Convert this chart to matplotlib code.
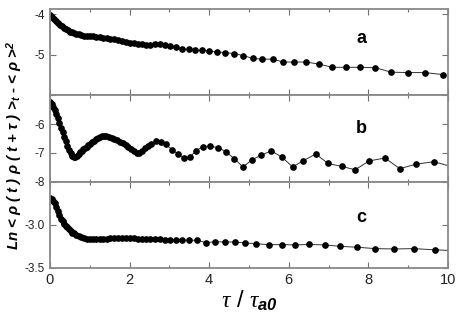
import matplotlib
matplotlib.use("Agg")
import matplotlib.pyplot as plt
from matplotlib.ticker import MultipleLocator

plt.rcParams['font.family'] = ['Liberation Sans', 'DejaVu Sans']
plt.rcParams['mathtext.fontset'] = 'custom'
plt.rcParams['mathtext.it'] = 'Liberation Serif:italic'
plt.rcParams['mathtext.bf'] = 'Liberation Sans:italic:bold'

# panel a
xa = [0.00, 0.05, 0.10, 0.15, 0.20, 0.25, 0.30, 0.35, 0.40, 0.45, 0.50, 0.55,
      0.60, 0.66, 0.72, 0.78, 0.85, 0.92, 1.00, 1.08, 1.16, 1.25, 1.34, 1.43,
      1.52, 1.62, 1.72, 1.82, 1.92, 2.02, 2.12, 2.22, 2.32, 2.42,
      2.51, 2.64, 2.76, 2.89, 3.02, 3.17, 3.33, 3.49, 3.65, 3.83, 4.00, 4.21,
      4.41, 4.62, 4.86, 5.09, 5.34, 5.60, 5.86, 6.14, 6.43, 6.76, 7.09, 7.44,
      7.80, 8.18, 8.57, 8.99, 9.42, 9.88]
ya = [-4.03, -4.07, -4.11, -4.16, -4.21, -4.26, -4.30, -4.34, -4.37, -4.40, -4.43, -4.45,
      -4.47, -4.49, -4.50, -4.52, -4.53, -4.54, -4.55, -4.55, -4.56, -4.57, -4.58, -4.59,
      -4.60, -4.62, -4.64, -4.66, -4.68, -4.70, -4.72, -4.73, -4.74, -4.75,
      -4.76, -4.74, -4.74, -4.76, -4.78, -4.82, -4.85, -4.87, -4.89, -4.89, -4.91, -4.93,
      -4.95, -4.97, -5.02, -5.09, -5.11, -5.11, -5.18, -5.18, -5.18, -5.23, -5.31, -5.31,
      -5.31, -5.32, -5.43, -5.44, -5.44, -5.49]

# panel b
xb = [0.00, 0.04, 0.08, 0.12, 0.16, 0.20, 0.24, 0.28, 0.32, 0.36, 0.40, 0.44,
      0.48, 0.52, 0.56, 0.60, 0.64, 0.68, 0.72, 0.76, 0.80, 0.84, 0.88, 0.92,
      0.96, 1.00, 1.05, 1.10, 1.15, 1.20, 1.25, 1.30, 1.36, 1.42, 1.48, 1.55,
      1.62, 1.69, 1.76, 1.83, 1.90, 1.97, 2.04, 2.11, 2.18, 2.25, 2.32, 2.39, 2.46,
      2.55, 2.66, 2.79, 2.91, 3.07, 3.21, 3.36, 3.51, 3.68, 3.84, 4.03, 4.23,
      4.42, 4.63, 4.85, 5.08, 5.31, 5.56, 5.83, 6.10, 6.37, 6.68, 6.99, 7.33,
      7.67, 8.02, 8.42, 8.79, 9.21, 9.65, 10.10]
yb = [-5.23, -5.30, -5.40, -5.52, -5.65, -5.80, -5.97, -6.12, -6.28, -6.44, -6.60, -6.75,
      -6.90, -7.02, -7.10, -7.15, -7.14, -7.10, -7.04, -6.98, -6.93, -6.88, -6.83, -6.78,
      -6.73, -6.69, -6.63, -6.58, -6.53, -6.49, -6.45, -6.42, -6.40, -6.41, -6.44, -6.48,
      -6.52, -6.57, -6.62, -6.67, -6.73, -6.79, -6.86, -6.93, -7.00, -7.02, -6.92, -6.84, -6.76,
      -6.69, -6.59, -6.61, -6.71, -6.89, -7.03, -7.17, -7.15, -6.92, -6.78, -6.77, -6.82,
      -6.96, -7.20, -7.49, -7.24, -7.08, -6.93, -7.15, -7.49, -7.27, -7.04, -7.37, -7.47,
      -7.59, -7.28, -7.18, -7.55, -7.39, -7.31, -7.48]

# panel c
xc = [0.00, 0.04, 0.08, 0.12, 0.16, 0.20, 0.24, 0.28, 0.32, 0.36, 0.40, 0.44,
      0.48, 0.52, 0.56, 0.60, 0.66, 0.72, 0.78, 0.85, 0.92, 1.00, 1.08, 1.16,
      1.25, 1.34, 1.43, 1.52, 1.62, 1.72, 1.82, 1.92, 2.02, 2.12, 2.22, 2.32, 2.42,
      2.51, 2.64, 2.76, 2.89, 3.02, 3.17, 3.33, 3.49, 3.70, 3.92, 4.14, 4.40,
      4.65, 4.91, 5.19, 5.50, 5.83, 6.16, 6.50, 6.91, 7.30, 7.72, 8.18, 8.65,
      9.15, 9.67, 10.20]
yc = [-2.69, -2.70, -2.72, -2.75, -2.79, -2.84, -2.89, -2.93, -2.96, -2.99, -3.01, -3.03,
      -3.05, -3.07, -3.09, -3.10, -3.12, -3.13, -3.14, -3.15, -3.16, -3.165, -3.17, -3.17,
      -3.17, -3.165, -3.16, -3.155, -3.15, -3.15, -3.15, -3.15, -3.15, -3.155, -3.16, -3.16, -3.165,
      -3.167, -3.17, -3.17, -3.174, -3.174, -3.174, -3.178, -3.178, -3.18, -3.206, -3.198, -3.198,
      -3.20, -3.21, -3.22, -3.23, -3.23, -3.233, -3.228, -3.233, -3.25, -3.26, -3.276, -3.28,
      -3.276, -3.29, -3.30]

panels = [(xa, ya, 'a', (-6.0, -3.87), [-4, -5, -6], ['-4', '-5', ''], 0.66),
          (xb, yb, 'b', (-8.0, -5.0), [-5, -6, -7, -8], ['', '-6', '-7', '-8'], 0.62),
          (xc, yc, 'c', (-3.5, -2.5), [-2.5, -3.0, -3.5], ['', '-3.0', '-3.5'], 0.58)]

fig, axs = plt.subplots(3, 1, figsize=(4.58, 3.19), dpi=100, sharex=True)
fig.subplots_adjust(left=0.109, right=0.978, bottom=0.160, top=0.972, hspace=0)

for ax, (x, y, tag, ylim, yt, ytl, ty) in zip(axs, panels):
    ax.plot(x, y, '-', color='#303030', lw=0.7, marker='o', ms=3.8,
            mfc='black', mec='black')
    ax.set_xlim(0, 10)
    ax.set_ylim(*ylim)
    ax.set_yticks(yt)
    ax.set_yticklabels(ytl)
    ax.xaxis.set_major_locator(MultipleLocator(2))
    ax.xaxis.set_minor_locator(MultipleLocator(1))
    ax.tick_params(which='both', direction='in', top=True, right=True,
                   colors='#707070', labelcolor='#202020', labelsize=8.5, width=0.8)
    ax.tick_params(which='major', length=4)
    ax.tick_params(which='minor', length=2.5)
    ax.tick_params(axis='x', labelsize=10.5)
    for s in ax.spines.values():
        s.set_color('#888888')
        s.set_linewidth(1.3)
    ax.text(7.83, ty, tag, transform=ax.get_xaxis_transform(), ha='center', va='center',
            fontsize=13, fontweight='bold')

axs[2].set_xticks([0, 2, 4, 6, 8, 10])
axs[2].set_xlabel(r'$\tau$ / $\tau_{\mathbf{a0}}$', fontsize=17, labelpad=1)

fig.text(0.032, 0.545,
         r'Ln < ρ ( t ) ρ ( t + τ ) >$_{\mathdefault{t}}$ - < ρ >$^{\mathdefault{2}}$',
         rotation=90, ha='center', va='center', fontsize=10.8,
         fontweight='bold', style='italic')

fig.savefig('out.png', dpi=100)
